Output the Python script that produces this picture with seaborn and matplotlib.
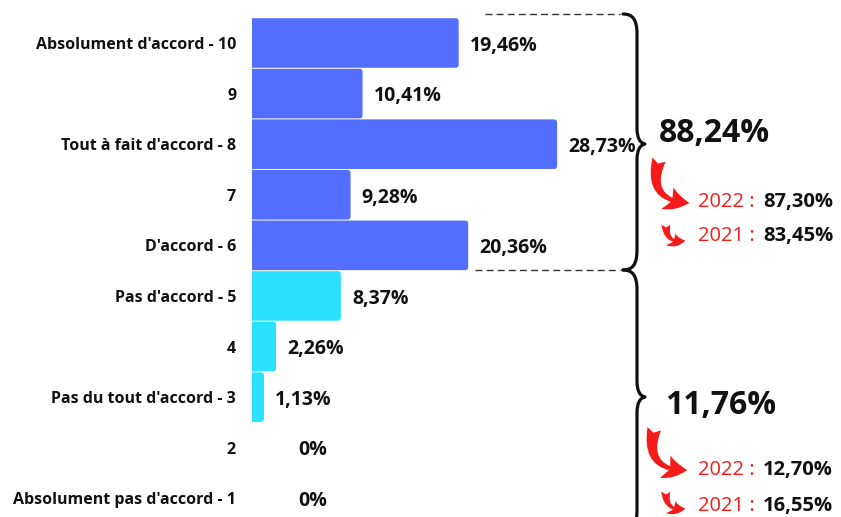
import numpy as np
import pandas as pd
import matplotlib.pyplot as plt
import seaborn as sns
from matplotlib.patches import FancyBboxPatch, FancyArrowPatch, PathPatch
from matplotlib.path import Path

sns.set_theme(style='white')
plt.rcParams['font.family'] = ['Open Sans', 'DejaVu Sans']

# données -----
categories = ["Absolument d'accord - 10", "9", "Tout à fait d'accord - 8", "7", "D'accord - 6",
              "Pas d'accord - 5", "4", "Pas du tout d'accord - 3", "2", "Absolument pas d'accord - 1"]
values = [19.46, 10.41, 28.73, 9.28, 20.36, 8.37, 2.26, 1.13, 0, 0]
groups = ['accord'] * 5 + ['pas accord'] * 5

total_labels = ['88,24%', '11,76%']
labels_2022 = ['87,30%', '12,70%']
labels_2021 = ['83,45%', '16,55%']

df = pd.DataFrame({'reponse': categories, 'pct': values, 'groupe': groups})

W, H = 841, 517
fig = plt.figure(figsize=(W / 100, H / 100), dpi=100)

# barres -----
ax = fig.add_axes([252 / W, 0, 1 - 252 / W, 1])
sns.barplot(data=df, y='reponse', x='pct', hue='groupe', palette=['#536DFE', '#2BE1FF'],
            saturation=1, dodge=False, width=0.98, legend=False, orient='h', ax=ax)
ax.set_xlim(0, (W - 252) / 10.62)
ax.set_ylim(9.37, -0.85)

# coins arrondis
for p in list(ax.patches):
    x0, y0, w, h = p.get_x(), p.get_y(), p.get_width(), p.get_height()
    fc = p.get_facecolor()
    p.remove()
    if w <= 0:
        continue
    ax.add_patch(FancyBboxPatch((x0 - 0.5, y0), w + 0.5, h,
                                boxstyle='round,pad=0,rounding_size=0.3',
                                mutation_aspect=0.21, fc=fc, ec='none'))

for i, v in enumerate(values):
    txt = (f'{v:.2f}'.replace('.', ',') if v else '0') + '%'
    ax.annotate(txt, (v, i), xytext=(8 if v else 33, -2), textcoords='offset points',
                va='center', ha='left', fontsize=14, fontweight='bold', color='#111111')

ax.set_xlabel('')
ax.set_ylabel('')
ax.set_xticks([])
ax.tick_params(axis='y', length=0, pad=11.5)
for t in ax.get_yticklabels():
    t.set_fontsize(11.5)
    t.set_fontweight('bold')
    t.set_color('#111111')
sns.despine(ax=ax, left=True, bottom=True)

# accolades, flèches -----
ov = fig.add_axes([0, 0, 1, 1])
ov.set_xlim(0, W)
ov.set_ylim(H, 0)
ov.axis('off')


def brace(y0, ym, y1, x_end=623, x_stem=637, x_tip=645):
    verts = [(x_end, y0),
             (x_end + 10, y0), (x_stem, y0 + 6), (x_stem, y0 + 20),
             (x_stem, ym - 16),
             (x_stem, ym - 6), (x_stem + 3, ym - 1), (x_tip, ym),
             (x_stem + 3, ym + 1), (x_stem, ym + 6), (x_stem, ym + 16),
             (x_stem, y1 - 20),
             (x_stem, y1 - 6), (x_end + 10, y1), (x_end, y1)]
    codes = [Path.MOVETO] + [Path.CURVE4] * 3 + [Path.LINETO] + [Path.CURVE4] * 6 + \
            [Path.LINETO] + [Path.CURVE4] * 3
    ov.add_patch(PathPatch(Path(verts, codes), fc='none', ec='#111111', lw=2.3,
                           capstyle='round', joinstyle='round'))


brace(14, 144, 270)
brace(270, 397, 530)
ov.plot([485, 620], [14, 14], ls=(0, (5, 3)), color='#333333', lw=1)
ov.plot([475, 620], [270, 270], ls=(0, (5, 3)), color='#333333', lw=1)

red = '#F51B1B'


def arrow(start, end, scale):
    ov.add_patch(FancyArrowPatch(start, end, arrowstyle='fancy,head_width=0.9,head_length=0.8,tail_width=0.5',
                                 connectionstyle='arc3,rad=0.7', mutation_scale=scale,
                                 color=red, lw=0))


arrow((660, 157), (692, 203), 20)
arrow((666, 222), (688, 240), 13)
arrow((655, 426), (690, 470), 20)
arrow((666, 489), (688, 508), 13)

for k, (y_big, y22, y21) in enumerate([(133, 202, 236), (406, 470, 506)]):
    ov.text(659 + 6 * k, y_big, total_labels[k], fontsize=23, fontweight='bold',
            va='center', color='#111111')
    ov.text(698, y22, '2022 :', fontsize=14.5, color=red, va='center')
    ov.text(763, y22, labels_2022[k], fontsize=14.5, fontweight='bold', va='center', color='#111111')
    ov.text(698, y21, '2021 :', fontsize=14.5, color=red, va='center')
    ov.text(763, y21, labels_2021[k], fontsize=14.5, fontweight='bold', va='center', color='#111111')

fig.savefig('out.png', dpi=100)
